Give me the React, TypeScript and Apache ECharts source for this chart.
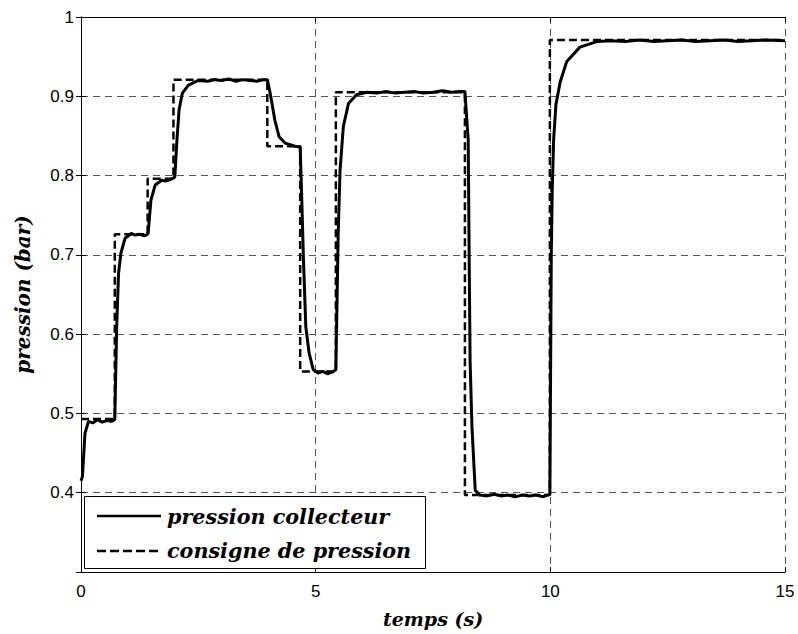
import React, { useEffect, useRef } from "react";
import * as echarts from "echarts";

// Setpoint (consigne de pression): change times (s) and levels (bar)
const setpointTimes = [0, 0.72, 1.42, 1.97, 3.97, 4.67, 5.43, 8.18, 9.99, 15];
const setpointLevels = [0.493, 0.726, 0.796, 0.921, 0.837, 0.553, 0.905, 0.397, 0.971, 0.971];

// Measured pressure (pression collecteur)
const measuredTimes = [
  0, 0.03, 0.085, 0.16, 0.25, 0.35, 0.45, 0.55, 0.65, 0.72, 0.76, 0.8, 0.85, 0.94, 1.07, 1.15, 1.25, 1.35, 1.42,
  1.43, 1.49, 1.58, 1.72, 1.8, 1.9, 1.98, 2.0, 2.04, 2.09, 2.16, 2.29, 2.5, 2.7, 2.85, 3.0, 3.15, 3.3, 3.45, 3.6,
  3.75, 3.9, 3.97, 4.03, 4.13, 4.22, 4.35, 4.56, 4.67, 4.7, 4.74, 4.79, 4.86, 4.95, 5.05, 5.15, 5.25, 5.35, 5.43,
  5.48, 5.52, 5.59, 5.7, 5.87, 6.09, 6.3, 6.5, 6.7, 6.9, 7.1, 7.3, 7.5, 7.7, 7.9, 8.05, 8.18, 8.25, 8.27, 8.29,
  8.33, 8.4, 8.5, 8.65, 8.8, 8.95, 9.1, 9.25, 9.4, 9.55, 9.7, 9.85, 9.99, 10.02, 10.04, 10.07, 10.12, 10.21,
  10.35, 10.63, 10.99, 11.3, 11.6, 11.9, 12.2, 12.5, 12.8, 13.1, 13.4, 13.7, 14.0, 14.3, 14.6, 15,
];
const measuredValues = [
  0.415, 0.42, 0.475, 0.49, 0.488, 0.492, 0.489, 0.491, 0.49, 0.492, 0.609, 0.677, 0.702, 0.721, 0.727, 0.725,
  0.726, 0.724, 0.726, 0.727, 0.769, 0.788, 0.794, 0.793, 0.795, 0.797, 0.799, 0.841, 0.883, 0.904, 0.914, 0.92,
  0.919, 0.921, 0.92, 0.922, 0.919, 0.921, 0.92, 0.919, 0.921, 0.921, 0.904, 0.87, 0.849, 0.841, 0.837, 0.836,
  0.778, 0.694, 0.609, 0.576, 0.555, 0.551, 0.553, 0.55, 0.552, 0.555, 0.727, 0.807, 0.862, 0.891, 0.902, 0.905,
  0.904, 0.906, 0.904, 0.905, 0.906, 0.904, 0.905, 0.907, 0.905, 0.906, 0.906, 0.845, 0.7, 0.567, 0.483, 0.403,
  0.397, 0.396, 0.398, 0.396, 0.397, 0.395, 0.397, 0.396, 0.397, 0.395, 0.398, 0.7, 0.78, 0.845, 0.89, 0.918,
  0.944, 0.962, 0.969, 0.97, 0.969, 0.971, 0.969, 0.97, 0.971, 0.969, 0.97, 0.971, 0.969, 0.97, 0.971, 0.97,
];

const xTicks = [0, 5, 10, 15];
const yTickLabels = ["0.4", "0.5", "0.6", "0.7", "0.8", "0.9", "1"];

const legendLabels = ["pression collecteur", "consigne de pression"];
const axisTitles = { x: "temps (s)", y: "pression (bar)" };

const serifBI = {
  fontFamily: "'DejaVu Serif', 'Liberation Serif', serif",
  fontWeight: "bold" as const,
  fontStyle: "italic" as const,
};

export default function App() {
  const ref = useRef<HTMLDivElement>(null);
  useEffect(() => {
    if (!ref.current) return;
    const chart = echarts.init(ref.current, null, { renderer: "svg" });
    const measured = measuredTimes.map((t, i) => [t, measuredValues[i]]);
    const setpoint = setpointTimes.map((t, i) => [t, setpointLevels[i]]);
    const gridColor = "#555";
    chart.setOption({
      animation: false,
      backgroundColor: "#fff",
      grid: { left: 81, top: 17, right: 13, bottom: 62, show: false },
      xAxis: [
        {
          type: "value",
          min: 0,
          max: 15,
          interval: 5,
          name: axisTitles.x,
          nameLocation: "middle",
          nameGap: 37,
          nameTextStyle: { ...serifBI, fontSize: 19, color: "#000" },
          axisLine: { show: true, lineStyle: { color: "#000", width: 1 } },
          axisTick: { show: true, inside: true, length: 5, lineStyle: { color: "#000" } },
          axisLabel: {
            color: "#000",
            fontSize: 17,
            fontFamily: "'Liberation Sans', Arial, sans-serif",
            margin: 11,
            formatter: (v: number) => (xTicks.includes(Math.round(v)) ? String(Math.round(v)) : ""),
          },
          splitLine: { show: true, lineStyle: { color: gridColor, type: [7, 5], width: 1 } },
        },
        {
          type: "value",
          position: "top",
          min: 0,
          max: 15,
          interval: 5,
          axisLine: { show: true, lineStyle: { color: "#000", width: 1 } },
          axisTick: { show: true, inside: true, length: 5, lineStyle: { color: "#000" } },
          axisLabel: { show: false },
          splitLine: { show: false },
        },
      ],
      yAxis: [
        {
          type: "value",
          min: 0.3,
          max: 1,
          interval: 0.1,
          name: axisTitles.y,
          nameLocation: "middle",
          nameGap: 48,
          nameRotate: 90,
          nameTextStyle: { ...serifBI, fontSize: 20, color: "#000" },
          axisLine: { show: true, lineStyle: { color: "#000", width: 1 } },
          axisTick: { show: true, inside: true, length: 5, lineStyle: { color: "#000" } },
          axisLabel: {
            color: "#000",
            fontSize: 17,
            fontFamily: "'Liberation Sans', Arial, sans-serif",
            margin: 7,
            formatter: (v: number) => {
              const r = Math.round(v * 10) / 10;
              const s = r === 1 ? "1" : r.toFixed(1);
              return yTickLabels.includes(s) ? s : "";
            },
          },
          splitLine: { show: true, lineStyle: { color: gridColor, type: [7, 5], width: 1 } },
        },
        {
          type: "value",
          position: "right",
          min: 0.3,
          max: 1,
          interval: 0.1,
          axisLine: { show: true, lineStyle: { color: "#000", width: 1 } },
          axisTick: { show: true, inside: true, length: 5, lineStyle: { color: "#000" } },
          axisLabel: { show: false },
          splitLine: { show: false },
        },
      ],
      series: [
        {
          name: legendLabels[1],
          type: "line",
          data: setpoint,
          step: "end",
          showSymbol: false,
          lineStyle: { color: "#000", width: 2.5, type: [8, 4] },
          z: 3,
        },
        {
          name: legendLabels[0],
          type: "line",
          data: measured,
          showSymbol: false,
          lineStyle: { color: "#000", width: 3 },
          z: 4,
        },
      ],
      graphic: [
        {
          type: "rect",
          z: 100,
          shape: { x: 84.5, y: 496.5, width: 341, height: 72 },
          style: { fill: "#fff", stroke: "#000", lineWidth: 1 },
        },
        {
          type: "line",
          z: 101,
          shape: { x1: 97, y1: 516, x2: 161, y2: 516 },
          style: { stroke: "#000", lineWidth: 2.5 },
        },
        {
          type: "line",
          z: 101,
          shape: { x1: 97, y1: 551, x2: 161, y2: 551 },
          style: { stroke: "#000", lineWidth: 2.5, lineDash: [9, 4] },
        },
        {
          type: "text",
          z: 101,
          x: 167,
          y: 517,
          style: {
            text: legendLabels[0],
            ...serifBI,
            fontSize: 20.7,
            fill: "#000",
            verticalAlign: "middle",
          },
        },
        {
          type: "text",
          z: 101,
          x: 167,
          y: 551,
          style: {
            text: legendLabels[1],
            ...serifBI,
            fontSize: 20.7,
            fill: "#000",
            verticalAlign: "middle",
          },
        },
      ],
    });
    return () => chart.dispose();
  }, []);
  return (
    <div
      ref={ref}
      style={{ position: "absolute", left: 0, top: 0, width: 798, height: 634 }}
    />
  );
}
